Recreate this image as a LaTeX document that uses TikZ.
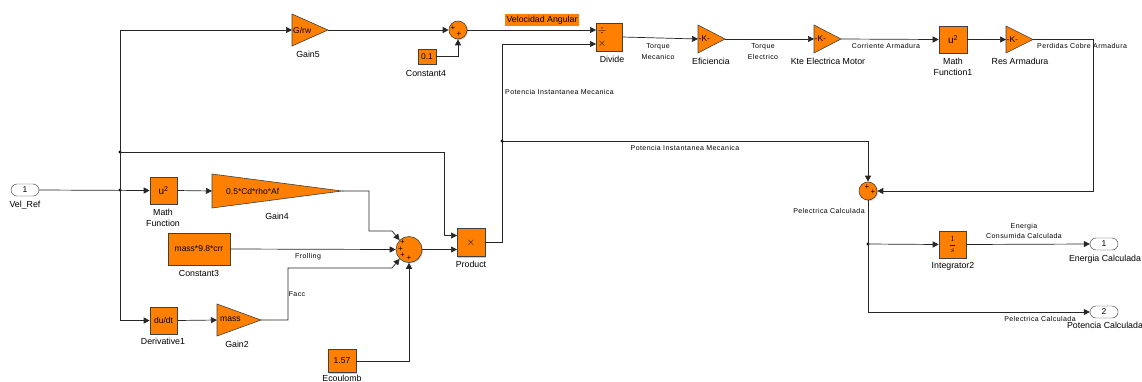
\documentclass[tikz,border=0pt]{standalone}
\usepackage{fontspec}
\setmainfont{Liberation Sans}
\newfontfamily\sigfont[LetterSpace=6]{Liberation Sans}
\usetikzlibrary{arrows.meta,shadows}
\definecolor{sorange}{RGB}{255,128,0}
\tikzset{
 blk/.style={draw=black!75, fill=sorange, line width=0.6pt, inner sep=0pt, font=\fontsize{8.5}{9}\selectfont,
   drop shadow={shadow xshift=1pt,shadow yshift=-1pt,fill=black!40,opacity=0.5}},
 sumc/.style={circle, draw=black!75, fill=sorange, line width=0.6pt, inner sep=0pt,
   drop shadow={shadow xshift=1pt,shadow yshift=-1pt,fill=black!40,opacity=0.5}},
 pls/.style={font=\fontsize{8}{8}\selectfont, inner sep=0pt},
 port/.style={draw=black!80, fill=white, rounded corners=6pt, minimum width=28pt, minimum height=12pt, inner sep=0pt, font=\fontsize{8.5}{9}\selectfont},
 lbl/.style={font=\fontsize{8.8}{11.5}\selectfont, align=center, inner sep=0pt},
 sig/.style={font=\sigfont\fontsize{7}{10.5}\selectfont, align=center, inner sep=0pt},
 wire/.style={draw=black!85, line width=0.7pt},
 arr/.style={wire, -{Triangle[length=6pt,width=6pt]}},
 jdot/.style={circle, fill=black, inner sep=0pt, minimum size=3.2pt},
 gainsty/.style={draw=black!75, fill=sorange, line width=0.6pt, line join=miter},
 gtext/.style={font=\fontsize{8.5}{9}\selectfont, inner sep=0pt, anchor=west},
}
\begin{document}
\begin{tikzpicture}[x=1pt,y=-1pt]
\useasboundingbox (0,0) rectangle (1142,381);

% ---------- ports ----------
\node[port] (vr) at (25,190) {1};
\node[lbl] (vrl) at (25,205) {Vel\_Ref};
\node[port] (o1) at (1104,244) {1};
\node[lbl] (o1l) at (1105,259) {Energia Calculada};
\node[port] (o2) at (1104,312) {2};
\node[lbl] (o2l) at (1105,325) {Potencia Calculada};

% ---------- left blocks ----------
\node[blk, minimum width=27pt, minimum height=27pt, font=\fontsize{10}{10}\selectfont] (mf) at (163.5,190.5) {u\textsuperscript{2}};
\node[lbl] (mfl) at (163,218) {Math\\Function};

\draw[gainsty] (212,174) -- (342,191) -- (212,208) -- cycle;
\node[gtext] (g4t) at (226,191) {0.5*Cd*rho*Af};
\coordinate (g4in) at (212,191); \coordinate (g4out) at (342,191);
\node[lbl] (g4l) at (277,216) {Gain4};

\node[blk, minimum width=62pt, minimum height=32pt] (c3) at (199,249) {mass*9.8*crr};
\node[lbl] (c3l) at (199,273) {Constant3};

\node[blk, minimum width=27pt, minimum height=27pt] (der) at (163.5,320.5) {du/dt};
\node[lbl] (derl) at (163,341) {Derivative1};

\draw[gainsty] (217,304) -- (261,320) -- (217,336) -- cycle;
\node[gtext] (g2t) at (220,319) {mass};
\coordinate (g2in) at (217,320); \coordinate (g2out) at (261,320);
\node[lbl] (g2l) at (237,344) {Gain2};

\node[blk, minimum width=28pt, minimum height=23pt] (ec) at (342,361) {1.57};
\node[lbl] (ecl) at (342,378) {Ecoulomb};

\node[sumc, minimum size=26pt] (sf) at (409,249.5) {};
\node[pls] (sfp1) at (402.5,242.5) {+};
\node[pls] (sfp2) at (400.5,249) {+};
\node[pls] (sfp3) at (402.5,255.5) {+};
\node[pls] (sfp4) at (409,258) {+};

\node[blk, minimum width=28pt, minimum height=28pt, font=\fontsize{11}{11}\selectfont] (prod) at (471,242.5) {$\times$};
\node[lbl] (prodl) at (471,264) {Product};
\coordinate (prin1) at (457,235.5); \coordinate (prin2) at (457,249.5);

% ---------- top blocks ----------
\draw[gainsty] (292,14) -- (328,30) -- (292,46) -- cycle;
\node[gtext] (g5t) at (293,30) {G/rw};
\coordinate (g5in) at (292,30); \coordinate (g5out) at (328,30);
\node[lbl] (g5l) at (308,54) {Gain5};

\node[sumc, minimum size=18pt] (s1) at (458,30) {};
\node[pls] (s1p1) at (453,28.5) {+};
\node[pls] (s1p2) at (459,34) {+};

\node[blk, minimum width=18pt, minimum height=15pt] (c4) at (427,56.5) {0.1};
\node[lbl] (c4l) at (426,73) {Constant4};

\node[lbl, fill=sorange, inner sep=1.5pt] (va) at (542,20) {Velocidad Angular};

\node[blk, minimum width=26pt, minimum height=28pt] (div) at (609,37) {};
\node[font=\fontsize{11}{11}\selectfont, inner sep=0pt] (divs1) at (602,30.5) {$\div$};
\node[font=\fontsize{11}{11}\selectfont, inner sep=0pt] (divs2) at (602,44) {$\times$};
\coordinate (dvin1) at (596,30); \coordinate (dvin2) at (596,44);
\node[lbl] (divl) at (612,59) {Divide};

\draw[gainsty] (698,25) -- (725,39) -- (698,53) -- cycle;
\node[gtext] (eft) at (698.5,39) {-K-};
\coordinate (efin) at (698,39); \coordinate (efout) at (725,39);
\node[lbl] (efl) at (711,61) {Eficiencia};

\draw[gainsty] (814,25) -- (841,39) -- (814,53) -- cycle;
\node[gtext] (ktt) at (814.5,39) {-K-};
\coordinate (ktin) at (814,39); \coordinate (ktout) at (841,39);
\node[lbl] (ktl) at (828,61) {Kte Electrica Motor};

\node[blk, minimum width=28pt, minimum height=27pt, font=\fontsize{10}{10}\selectfont] (mf1) at (953,39.5) {u\textsuperscript{2}};
\node[lbl] (mf1l) at (953,67) {Math\\Function1};

\draw[gainsty] (1006,26) -- (1033,39.5) -- (1006,53) -- cycle;
\node[gtext] (rat) at (1006.5,39.5) {-K-};
\coordinate (rain) at (1006,39.5); \coordinate (raout) at (1033,39.5);
\node[lbl] (ral) at (1020,61) {Res Armadura};

% ---------- right ----------
\node[sumc, minimum size=18pt] (sp) at (868,191) {};
\node[pls] (spp1) at (867,187) {+};
\node[pls] (spp2) at (873,192.5) {+};
\node[sig] (spl) at (829,211) {Pelectrica Calculada};

\node[blk, minimum width=27pt, minimum height=27pt, font=\fontsize{8.5}{9}\selectfont] (int) at (952.5,244.5) {$\displaystyle\frac{1}{s}$};
\node[lbl] (intl) at (953,266) {Integrator2};

% ---------- junctions ----------
\coordinate (j1) at (120,190);
\coordinate (j2) at (120,152);
\coordinate (j3) at (502,141);
\coordinate (j4) at (868,244);
\node[jdot] (dj1) at (j1) {};
\node[jdot] (dj2) at (j2) {};
\node[jdot] (dj3) at (j3) {};
\node[jdot] (dj4) at (j4) {};

% ---------- wires ----------
\draw[arr] (vr.east) -- (mf.west);
\draw[arr] (j1) -- (120,30) -- (g5in);
\draw[arr] (j1) -- (120,320.5) -- (der.west);
\draw[arr] (j2) -- (444,152) -- (444,235.5) -- (prin1);
\draw[arr] (mf.east) -- (g4in);
\draw[arr] (g4out) -- (369,191) -- (369,231) -- (392,231) -- (sf.135);
\draw[arr] (c3.east) -- (sf.west);
\draw[arr] (der.east) -- (g2in);
\draw[arr] (g2out) -- (288,320) -- (288,268) -- (392,268) -- (sf.225);
\draw[arr] (ec.east) -- (409,361) -- (sf.south);
\draw[arr] (sf.east) -- (prin2);
\draw[arr] (prod.east) -- (502,242.5) -- (502,44) -- (dvin2);
\draw[arr] (j3) -- (868,141) -- (sp.north);
\draw[arr] (g5out) -- (s1.west);
\draw[arr] (c4.east) -- (458,56.5) -- (s1.south);
\draw[arr] (s1.east) -- (dvin1);
\draw[arr] (div.east) -- (efin);
\draw[arr] (efout) -- (ktin);
\draw[arr] (ktout) -- (mf1.west);
\draw[arr] (mf1.east) -- (rain);
\draw[arr] (raout) -- (1093,39.5) -- (1093,191) -- (sp.east);
\draw[arr] (sp.south) -- (868,312) -- (o2.west);
\draw[arr] (j4) -- (int.west);
\draw[arr] (int.east) -- (o1.west);

% ---------- signal labels ----------
\node[sig] (lfr) at (308,257) {Frolling};
\node[sig] (lfa) at (297,294) {Facc};
\node[sig, anchor=west] (lpim1) at (505,92) {Potencia Instantanea Mecanica};
\node[sig] (lpim2) at (685,148) {Potencia Instantanea Mecanica};
\node[sig] (ltm) at (658,51.5) {Torque\\Mecanico};
\node[sig] (lte) at (763,51.5) {Torque\\Electrico};
\node[sig] (lca) at (886,46) {Corriente Armadura};
\node[sig, anchor=west] (lpca) at (1037,46) {Perdidas Cobre Armadura};
\node[sig] (lec) at (1024,231) {Energia\\Consumida Calculada};
\node[sig] (lpc) at (1040,319) {Pelectrica Calculada};
\end{tikzpicture}
\end{document}
